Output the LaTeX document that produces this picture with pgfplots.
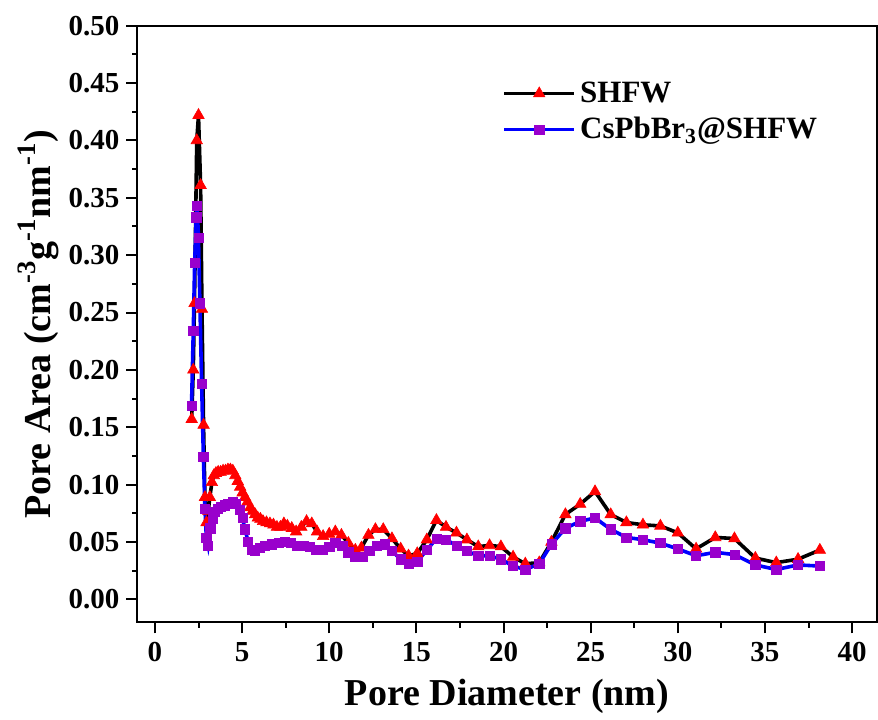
\documentclass[border=0pt]{standalone}
\usepackage{fontspec}
\setmainfont{Liberation Serif}
\usepackage{pgfplots}
\pgfplotsset{compat=1.18}
\definecolor{sqpurple}{HTML}{9900CC}

\begin{document}
\begin{tikzpicture}
\useasboundingbox (-68.75bp,-48.85bp) rectangle (370.25bp,311.15bp);
\begin{axis}[
    at={(0,0)}, anchor=south west,
    scale only axis,
    width=369.5bp, height=298.3bp,
    xmin=-1, xmax=41.4,
    ymin=-0.02, ymax=0.50,
    xtick={0,5,...,40},
    ytick={0,0.05,...,0.5},
    minor x tick num=1,
    minor y tick num=1,
    tick align=outside,
    xtick pos=bottom, ytick pos=left,
    major tick length=5.5bp,
    minor tick length=2.7bp,
    axis line style={line width=1bp},
    every tick/.style={line width=1bp, black},
    /pgf/number format/assume math mode=true,
    yticklabel style={/pgf/number format/fixed, /pgf/number format/fixed zerofill, /pgf/number format/precision=2},
    scaled y ticks=false,
    ticklabel style={font=\fontsize{14.5bp}{16bp}\selectfont\bfseries},
    xticklabel style={yshift=-1bp},
    xlabel={Pore Diameter (nm)},
    ylabel={Pore Area (cm\textsuperscript{-3}g\textsuperscript{-1}nm\textsuperscript{-1})},
    label style={font=\fontsize{19bp}{22bp}\selectfont\bfseries},
    xlabel style={yshift=-2bp},
    ylabel style={yshift=-2bp},
    legend style={at={(0.485,0.92)}, anchor=north west, draw=none, fill=none,
        font=\fontsize{15.5bp}{18bp}\selectfont\bfseries,
        row sep=2bp, cells={anchor=west}},
    legend image code/.code={
        \draw[#1, mark repeat=2, mark phase=2] plot coordinates {(0cm,0cm) (0.62cm,0cm) (1.24cm,0cm)};
    },
]
\addplot[black, line width=1.8bp, mark=triangle*, mark size=3.3bp,
    mark options={fill=red, draw=red, line width=0.3bp}] coordinates {
(2.11,0.157) (2.20,0.200) (2.27,0.258) (2.40,0.400) (2.50,0.422) (2.62,0.361)
(2.70,0.253) (2.79,0.152) (2.87,0.089) (2.96,0.067) (3.06,0.077) (3.15,0.089)
(3.27,0.102) (3.38,0.108) (3.50,0.110) (3.63,0.111) (3.77,0.111) (3.91,0.112)
(4.05,0.112) (4.19,0.113) (4.33,0.113) (4.47,0.112) (4.61,0.108) (4.75,0.103)
(4.89,0.098) (5.03,0.093) (5.17,0.089) (5.31,0.085) (5.46,0.080) (5.60,0.077)
(5.75,0.074) (5.90,0.071) (6.05,0.070) (6.20,0.068) (6.40,0.067) (6.60,0.066)
(6.80,0.065) (7.00,0.063) (7.20,0.063) (7.40,0.066) (7.60,0.064) (7.85,0.062)
(8.10,0.059) (8.40,0.063) (8.70,0.068) (9.00,0.066) (9.30,0.059) (9.65,0.055)
(10.00,0.057) (10.35,0.059) (10.70,0.056) (11.10,0.049) (11.50,0.043) (11.85,0.045)
(12.25,0.056) (12.65,0.061) (13.10,0.061) (13.60,0.053) (14.10,0.044) (14.55,0.038)
(15.05,0.040) (15.60,0.052) (16.15,0.069) (16.70,0.063) (17.30,0.058) (17.90,0.052)
(18.55,0.046) (19.20,0.047) (19.85,0.046) (20.55,0.037) (21.25,0.031) (22.05,0.032)
(22.75,0.050) (23.55,0.074) (24.40,0.083) (25.25,0.094) (26.15,0.074) (27.05,0.067)
(28.00,0.065) (29.00,0.064) (30.00,0.058) (31.05,0.044) (32.15,0.054) (33.25,0.053)
(34.45,0.036) (35.65,0.032) (36.90,0.035) (38.15,0.043)
};
\addlegendentry{SHFW}
\addplot[blue, line width=1.8bp, mark=square*, mark size=2.3bp,
    mark options={fill=sqpurple, draw=sqpurple, line width=0.3bp}] coordinates {
(2.10,0.169) (2.20,0.234) (2.28,0.293) (2.37,0.333) (2.42,0.343) (2.50,0.315)
(2.58,0.258) (2.68,0.188) (2.78,0.124) (2.87,0.079) (2.95,0.054) (3.05,0.047)
(3.18,0.062) (3.30,0.070) (3.45,0.076) (3.60,0.079) (3.80,0.081) (4.00,0.082)
(4.20,0.083) (4.45,0.085) (4.65,0.083) (4.85,0.078) (5.02,0.071) (5.17,0.061)
(5.35,0.050) (5.55,0.043) (5.75,0.042) (6.00,0.045) (6.30,0.047) (6.70,0.048)
(7.10,0.049) (7.45,0.050) (7.80,0.049) (8.15,0.047) (8.55,0.047) (8.90,0.046)
(9.25,0.043) (9.65,0.043) (10.00,0.046) (10.35,0.049) (10.75,0.047) (11.10,0.041)
(11.50,0.037) (11.90,0.037) (12.30,0.042) (12.75,0.047) (13.20,0.048) (13.60,0.042)
(14.10,0.035) (14.55,0.031) (15.05,0.033) (15.60,0.043) (16.15,0.053) (16.70,0.052)
(17.30,0.047) (17.90,0.042) (18.55,0.038) (19.20,0.038) (19.85,0.035) (20.55,0.029)
(21.25,0.026) (22.05,0.031) (22.75,0.048) (23.55,0.062) (24.40,0.068) (25.25,0.071)
(26.15,0.061) (27.05,0.054) (28.00,0.052) (29.00,0.049) (30.00,0.044) (31.05,0.038)
(32.15,0.041) (33.25,0.039) (34.45,0.030) (35.65,0.026) (36.90,0.030) (38.15,0.029)
};
\addlegendentry{CsPbBr\textsubscript{3}@SHFW}
\end{axis}
\end{tikzpicture}
\end{document}
